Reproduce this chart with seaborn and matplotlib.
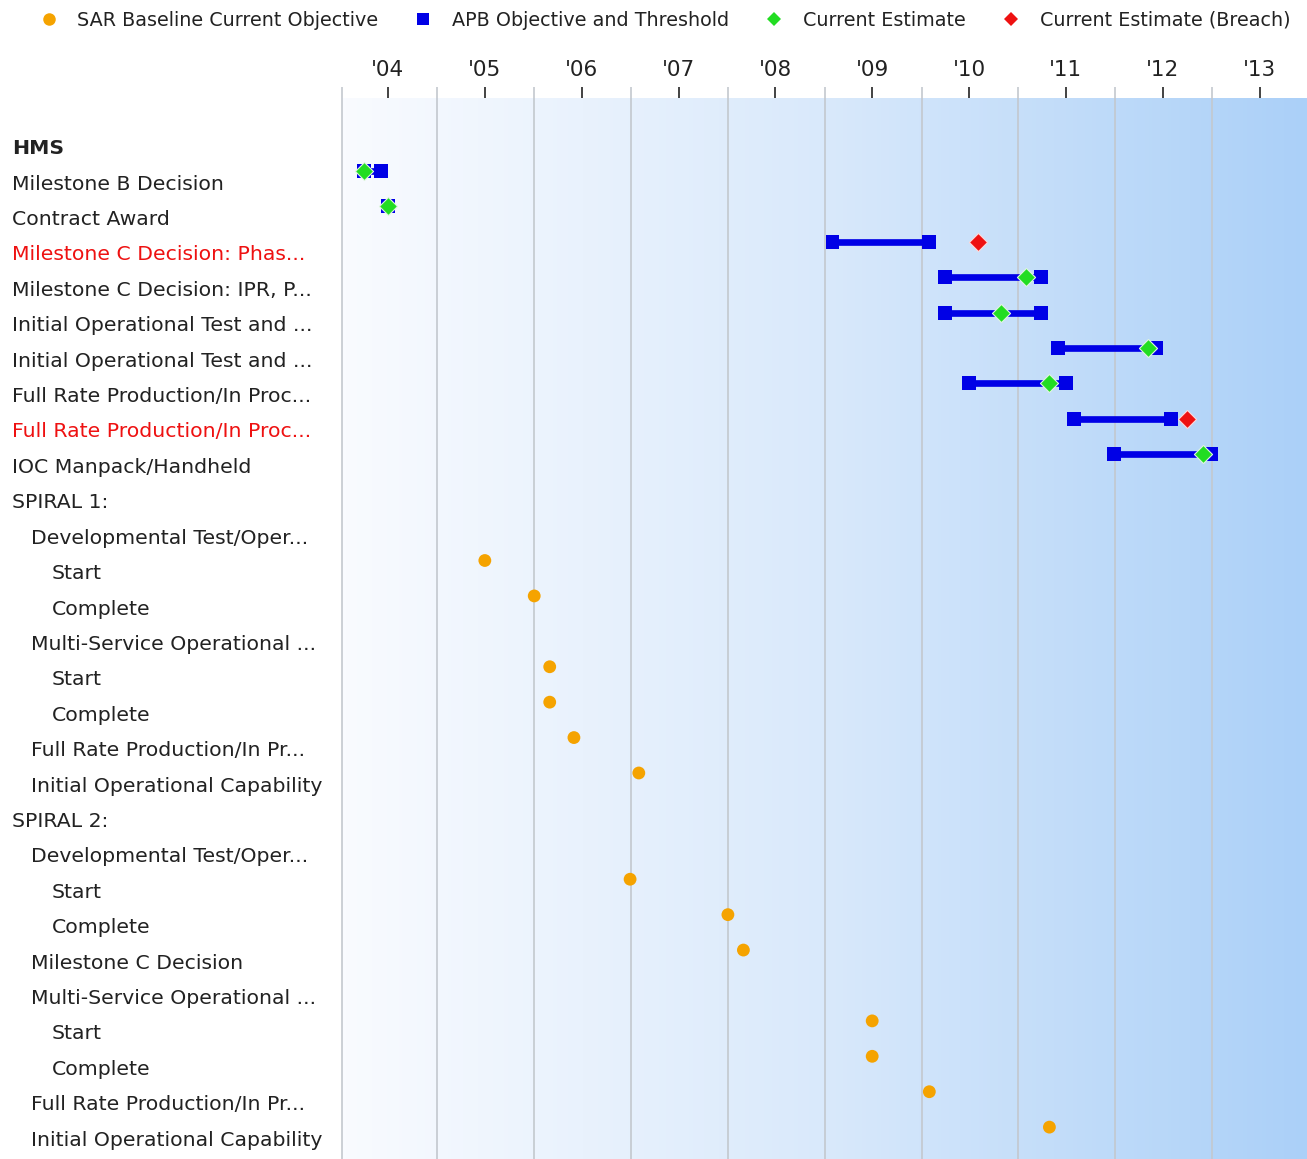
import numpy as np
import pandas as pd
import seaborn as sns
import matplotlib.pyplot as plt
import matplotlib.transforms as mtransforms
from matplotlib.colors import LinearSegmentedColormap
from matplotlib.lines import Line2D

# ---- data -------------------------------------------------------------------
labels = ["HMS", "Milestone B Decision", "Contract Award",
          "Milestone C Decision: Phas...", "Milestone C Decision: IPR, P...",
          "Initial Operational Test and ...", "Initial Operational Test and ...",
          "Full Rate Production/In Proc...", "Full Rate Production/In Proc...",
          "IOC Manpack/Handheld", "SPIRAL 1:",
          "Developmental Test/Oper...", "Start", "Complete",
          "Multi-Service Operational ...", "Start", "Complete",
          "Full Rate Production/In Pr...", "Initial Operational Capability",
          "SPIRAL 2:",
          "Developmental Test/Oper...", "Start", "Complete",
          "Milestone C Decision",
          "Multi-Service Operational ...", "Start", "Complete",
          "Full Rate Production/In Pr...", "Initial Operational Capability"]
indent = [0, 0, 0, 0, 0, 0, 0, 0, 0, 0, 0,
          1, 2, 2, 1, 2, 2, 1, 1, 0,
          1, 2, 2, 1, 1, 2, 2, 1, 1]
red_rows = [3, 8]

# APB objective / threshold (decimal years)
apb_rows = [1, 2, 3, 4, 5, 6, 7, 8, 9]
apb_objective = [2003.75, 2004.0, 2008.59, 2009.75, 2009.75, 2010.92, 2010.0, 2011.08, 2011.5]
apb_threshold = [2003.93, 2004.0, 2009.59, 2010.74, 2010.74, 2011.93, 2011.0, 2012.09, 2012.5]

# current estimate
est_rows = [1, 2, 4, 5, 6, 7, 9]
est_values = [2003.75, 2004.0, 2010.59, 2010.33, 2011.85, 2010.83, 2012.42]

# current estimate (breach)
breach_rows = [3, 8]
breach_values = [2010.09, 2012.25]

# SAR baseline current objective
sar_rows = [12, 13, 15, 16, 17, 18, 21, 22, 23, 25, 26, 27, 28]
sar_values = [2005.0, 2005.51, 2005.67, 2005.67, 2005.92, 2006.59,
              2006.5, 2007.51, 2007.67, 2009.0, 2009.0, 2009.59, 2010.83]

years = list(range(2004, 2014))
year_labels = ["'04", "'05", "'06", "'07", "'08", "'09", "'10", "'11", "'12", "'13"]

# ---- style ------------------------------------------------------------------
sns.set_theme(style="white")
plt.rcParams['font.family'] = ['DejaVu Sans']

BLUE = "#0000e6"
GREEN = "#22dd22"
RED = "#ee1111"
ORANGE = "#f5a300"
TEXT = "#222222"

W, H = 1307, 1159
fig = plt.figure(figsize=(W / 100, H / 100), dpi=100)
ax = fig.add_axes([342 / W, 0, 1 - 342 / W, 1 - 98 / H])

x0, x1 = 2003.525, 2013.49
y_top, y_bot = -1.06, 28.9

# background gradient
cmap = LinearSegmentedColormap.from_list("bg", ["#f9fbff", "#d9e9fb", "#abd0f8"])
grad = np.linspace(0, 1, 256).reshape(1, -1)
ax.imshow(grad, extent=(x0, x1, y_bot, y_top), aspect="auto", cmap=cmap, zorder=0)

# year gridlines (at year boundaries) extending above the plot
grid_x = [x0] + [y + 0.51 for y in years[:-1]]
ax.vlines(grid_x, -1.37, y_bot, color="#c3c8ce", lw=1.2, clip_on=False, zorder=1)

# APB bars
ax.hlines(apb_rows, apb_objective, apb_threshold, color=BLUE, lw=4.8, zorder=2)

apb = pd.DataFrame({"row": apb_rows * 2, "date": apb_objective + apb_threshold})
sns.scatterplot(data=apb, x="date", y="row", marker="s", s=100, color=BLUE,
                edgecolor="none", ax=ax, zorder=3)

est = pd.DataFrame({"row": est_rows, "date": est_values})
sns.scatterplot(data=est, x="date", y="row", marker="D", s=85, color=GREEN,
                edgecolor="#dff5df", linewidth=0.8, ax=ax, zorder=4)

breach = pd.DataFrame({"row": breach_rows, "date": breach_values})
sns.scatterplot(data=breach, x="date", y="row", marker="D", s=85, color=RED,
                edgecolor="#ffd8d8", linewidth=0.8, ax=ax, zorder=4)

sar = pd.DataFrame({"row": sar_rows, "date": sar_values})
sns.scatterplot(data=sar, x="date", y="row", marker="o", s=85, color=ORANGE,
                edgecolor="none", ax=ax, zorder=4)

ax.set_xlim(x0, x1)
ax.set_ylim(y_bot, y_top)
for sp in ax.spines.values():
    sp.set_visible(False)
ax.set_xlabel("")
ax.set_ylabel("")
ax.set_yticks([])
ax.xaxis.tick_top()
ax.set_xticks(years)
ax.set_xticklabels(year_labels)
ax.tick_params(axis="x", top=True, bottom=False, direction="out", length=8,
               width=1.2, color=TEXT, labelsize=15.5, labelcolor=TEXT, pad=5)

# row labels
trans = mtransforms.blended_transform_factory(fig.transFigure, ax.transData)
indent_px = [12, 31, 52]
for i, lab in enumerate(labels):
    color = RED if i in red_rows else TEXT
    weight = "bold" if i == 0 else "normal"
    ax.text(indent_px[indent[i]] / W, i + 0.37, lab, transform=trans,
            ha="left", va="center", fontsize=14.7, color=color,
            fontweight=weight, clip_on=False)

# legend
handles = [
    Line2D([], [], marker="o", ls="none", color=ORANGE, markersize=9, markeredgewidth=0),
    Line2D([], [], marker="s", ls="none", color=BLUE, markersize=8.5, markeredgewidth=0),
    Line2D([], [], marker="D", ls="none", color=GREEN, markersize=7.5, markeredgewidth=0),
    Line2D([], [], marker="D", ls="none", color=RED, markersize=7.5, markeredgewidth=0),
]
names = ["SAR Baseline Current Objective", "APB Objective and Threshold",
         "Current Estimate", "Current Estimate (Breach)"]
fig.legend(handles, names, ncol=4, loc="center left",
           bbox_to_anchor=(39 / W, 1 - 20 / H), frameon=False, fontsize=13.8,
           handlelength=1.0, handletextpad=1.0, columnspacing=1.85,
           borderpad=0, borderaxespad=0, labelcolor=TEXT)

fig.savefig("out.png", dpi=100)
